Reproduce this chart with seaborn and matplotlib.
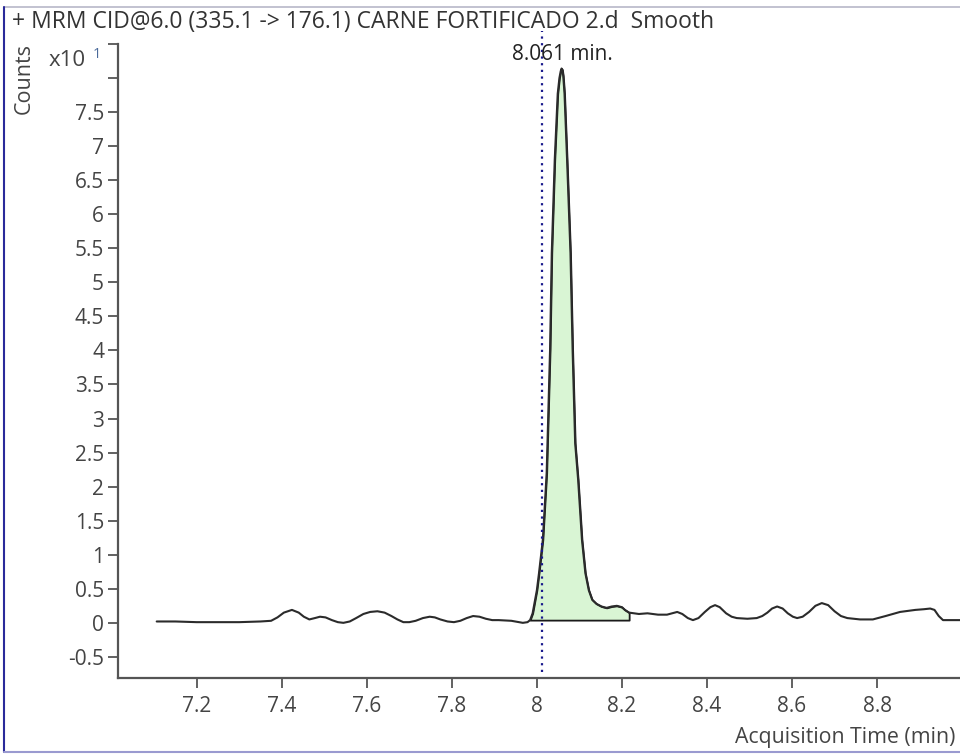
import matplotlib
matplotlib.use("Agg")
import matplotlib.pyplot as plt
from matplotlib.lines import Line2D
import numpy as np
import pandas as pd
import seaborn as sns

# ---- data ----
time_min = [7.106, 7.15, 7.20, 7.25, 7.30, 7.35, 7.375, 7.39, 7.405, 7.424, 7.44, 7.452,
            7.465, 7.478, 7.49, 7.503, 7.518, 7.532, 7.545, 7.56, 7.575, 7.592, 7.608,
            7.625, 7.642, 7.658, 7.672, 7.686, 7.70, 7.715, 7.732, 7.748, 7.76, 7.773,
            7.79, 7.805, 7.82, 7.835, 7.85, 7.865, 7.88, 7.895, 7.91, 7.94, 7.967,
            7.978, 7.984, 7.99, 8.0, 8.005, 8.014, 8.023, 8.031, 8.035, 8.042, 8.049,
            8.053, 8.056, 8.058, 8.060, 8.062, 8.065, 8.071, 8.079, 8.084, 8.09, 8.097,
            8.106, 8.114, 8.122, 8.13, 8.14, 8.152, 8.164, 8.176, 8.188, 8.2, 8.207,
            8.217, 8.24, 8.26, 8.285, 8.306, 8.318, 8.33, 8.342, 8.355, 8.367, 8.38,
            8.395, 8.408, 8.419, 8.43, 8.445, 8.458, 8.47, 8.495, 8.517, 8.53, 8.542,
            8.553, 8.565, 8.578, 8.59, 8.602, 8.612, 8.625, 8.64, 8.655, 8.67, 8.685,
            8.70, 8.715, 8.73, 8.76, 8.79, 8.82, 8.854, 8.89, 8.91, 8.925, 8.935,
            8.945, 8.955, 8.975, 8.995]
counts_x10 = [0.02, 0.02, 0.01, 0.01, 0.01, 0.02, 0.03, 0.08, 0.15, 0.19, 0.15, 0.09,
              0.05, 0.07, 0.09, 0.08, 0.04, 0.01, 0.00, 0.02, 0.07, 0.13, 0.16,
              0.17, 0.15, 0.10, 0.05, 0.01, 0.01, 0.03, 0.07, 0.09, 0.08, 0.05,
              0.02, 0.01, 0.03, 0.07, 0.10, 0.09, 0.06, 0.04, 0.04, 0.03, 0.00,
              0.01, 0.04, 0.14, 0.48, 0.73, 1.22, 2.20, 4.01, 5.43, 6.80, 7.77,
              8.00, 8.10, 8.14, 8.12, 8.03, 7.77, 6.80, 5.43, 4.01, 2.64, 2.10,
              1.22, 0.73, 0.48, 0.34, 0.28, 0.24, 0.22, 0.24, 0.25, 0.23, 0.19,
              0.15, 0.13, 0.14, 0.12, 0.12, 0.14, 0.16, 0.13, 0.07, 0.04, 0.07,
              0.16, 0.23, 0.26, 0.23, 0.14, 0.09, 0.07, 0.06, 0.07, 0.10, 0.15,
              0.21, 0.24, 0.21, 0.14, 0.09, 0.07, 0.09, 0.16, 0.25, 0.29, 0.26,
              0.17, 0.10, 0.07, 0.05, 0.05, 0.10, 0.16, 0.19, 0.20, 0.21, 0.19,
              0.10, 0.04, 0.04, 0.04]
peak_start, peak_end = 7.984, 8.217
peak_baseline = 0.04
rt_marker = 8.013
rt_label = "8.061 min."
x_ticks = [7.2, 7.4, 7.6, 7.8, 8.0, 8.2, 8.4, 8.6, 8.8]
x_tick_labels = ["7.2", "7.4", "7.6", "7.8", "8", "8.2", "8.4", "8.6", "8.8"]
y_ticks = [-0.5, 0, 0.5, 1, 1.5, 2, 2.5, 3, 3.5, 4, 4.5, 5, 5.5, 6, 6.5, 7, 7.5, 8, 8.5]
y_tick_labels = ["-0.5", "0", "0.5", "1", "1.5", "2", "2.5", "3", "3.5", "4", "4.5", "5",
                 "5.5", "6", "6.5", "7", "7.5", "", ""]
title = "+ MRM CID@6.0 (335.1 -> 176.1) CARNE FORTIFICADO 2.d  Smooth"

df = pd.DataFrame({"time": time_min, "counts": counts_x10})

sns.set_theme(style="white")
plt.rcParams["font.family"] = ["Open Sans", "DejaVu Sans"]

fig = plt.figure(figsize=(9.6, 7.54), dpi=100)
fig.patch.set_facecolor("white")
ax = fig.add_axes([118 / 960, 1 - 678 / 754, 1 - 118 / 960, (678 - 44) / 754])

# filled integrated peak
pk = df[(df.time >= peak_start) & (df.time <= peak_end)]
ax.fill_between(pk.time, pk.counts, peak_baseline, facecolor="#d9f5d4",
                edgecolor="#1a1a1a", linewidth=1.3, zorder=2)

sns.lineplot(data=df, x="time", y="counts", sort=False, estimator=None,
             color="#2b2b2b", linewidth=1.5, ax=ax, zorder=3)

ax.axvline(rt_marker, ymin=0.01, ymax=1.02, color="#1a1a8c", linestyle=(0, (1, 2)),
           linewidth=1.6, zorder=4, clip_on=False)
ax.text(8.061, 8.34, rt_label, ha="center", va="center", fontsize=15, color="#222222",
        zorder=5, clip_on=False)

ax.set_xlim(7.015, 8.995)
ax.set_ylim(-0.81, 8.5)
ax.set_xticks(x_ticks)
ax.set_xticklabels(x_tick_labels)
ax.set_yticks(y_ticks)
ax.set_yticklabels(y_tick_labels)
ax.set_xlabel("")
ax.set_ylabel("")
ax.tick_params(axis="both", direction="out", length=7, width=1.3, color="#555555",
               labelcolor="#444444", labelsize=15, pad=3, bottom=True, left=True)
ax.tick_params(axis="x", pad=6)
for s in ["top", "right"]:
    ax.spines[s].set_visible(False)
for s in ["left", "bottom"]:
    ax.spines[s].set_color("#555555")
    ax.spines[s].set_linewidth(1.6)
ax.set_facecolor("white")
ax.grid(False)

# texts outside axes
fig.text(12 / 960, 1 - 22 / 754, title, ha="left", va="center", fontsize=16.5, color="#333333")
fig.text(24 / 960, 1 - 78 / 754, "Counts", rotation=90, ha="center", va="center",
         fontsize=15.5, color="#444444")
fig.text(49 / 960, 1 - 60 / 754, "x10", ha="left", va="center", fontsize=16, color="#444444")
fig.text(93 / 960, 1 - 55 / 754, "1", ha="left", va="center", fontsize=10.5, color="#4a6a9a")
fig.text(955 / 960, 1 - 738 / 754, "Acquisition Time (min)", ha="right", va="center",
         fontsize=15.3, color="#444444")

# window frame lines
fig.add_artist(Line2D([4 / 960, 1], [1 - 7 / 754, 1 - 7 / 754], color="#b8b8c8", linewidth=1.2))
fig.add_artist(Line2D([4 / 960, 4 / 960], [1 - 7 / 754, 1 - 752 / 754], color="#2a2a9a", linewidth=1.5))
fig.add_artist(Line2D([4 / 960, 1], [1 - 752 / 754, 1 - 752 / 754], color="#9a9ad0", linewidth=1.5))

fig.savefig("out.png", dpi=100, facecolor="white")
